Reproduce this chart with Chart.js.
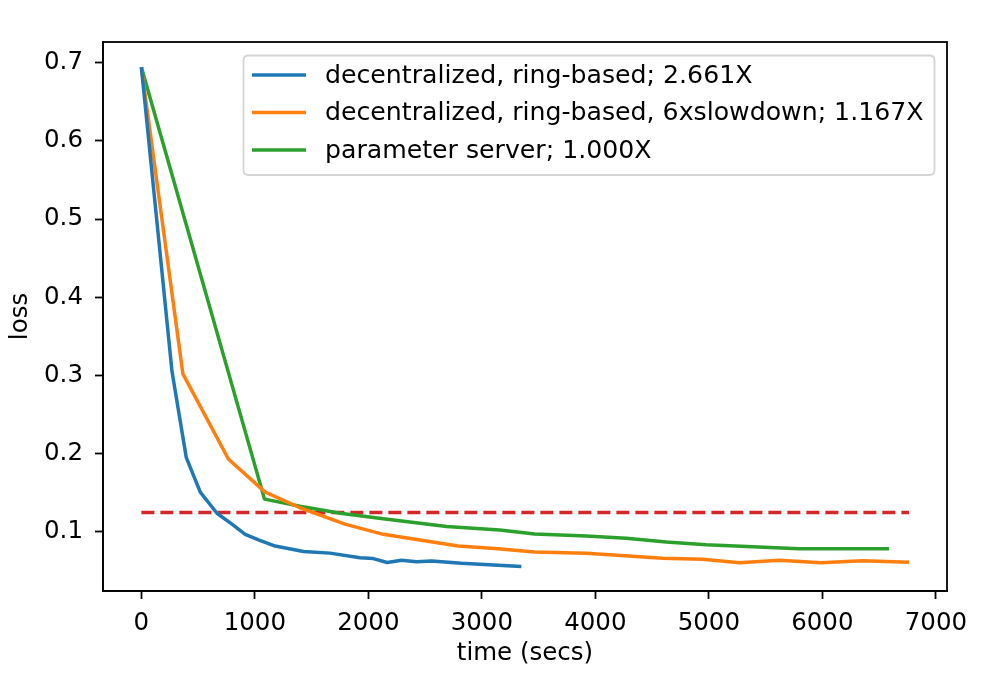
<!DOCTYPE html>
<html>
<head>
<meta charset="utf-8">
<script src="https://cdn.jsdelivr.net/npm/chart.js@4/dist/chart.umd.min.js"></script>
<style>
html,body{margin:0;padding:0;background:#fff;}
#wrap{width:1001px;height:675px;}
</style>
</head>
<body>
<div id="wrap"><canvas id="c" width="1001" height="675"></canvas></div>
<script>
// ---- data ----
const seriesLabels = [
  "decentralized, ring-based; 2.661X",
  "decentralized, ring-based, 6xslowdown; 1.167X",
  "parameter server; 1.000X"
];
const ringTime = [0, 270, 396, 519, 666, 798, 915, 1032, 1179, 1428, 1662, 1926, 2043, 2166, 2293, 2425, 2557, 2820, 3348];
const ringLoss = [0.694, 0.305, 0.195, 0.151, 0.124, 0.110, 0.097, 0.090, 0.082, 0.075, 0.073, 0.067, 0.066, 0.061, 0.064, 0.062, 0.063, 0.060, 0.056];

const slowTime = [0, 366, 768, 1091, 1398, 1794, 2131, 2791, 3113, 3465, 3920, 4594, 4946, 5268, 5620, 5987, 6353, 6763];
const slowLoss = [0.694, 0.302, 0.193, 0.151, 0.131, 0.110, 0.097, 0.082, 0.079, 0.0744, 0.0727, 0.0663, 0.0651, 0.0608, 0.0638, 0.0608, 0.0633, 0.0612];

const psTime = [0, 1085, 1398, 1752, 2131, 2689, 3157, 3465, 3920, 4272, 4624, 4976, 5386, 5796, 6588];
const psLoss = [0.694, 0.142, 0.133, 0.124, 0.117, 0.107, 0.1025, 0.0974, 0.0949, 0.092, 0.0872, 0.0838, 0.0812, 0.0787, 0.0787];

const thresholdTime = [0, 6763];
const thresholdLoss = [0.125, 0.125];

const xTicks = [0, 1000, 2000, 3000, 4000, 5000, 6000, 7000];
const yTicks = [0.1, 0.2, 0.3, 0.4, 0.5, 0.6, 0.7];

const colors = ["#1f77b4", "#ff7f0e", "#2ca02c", "#d62728"];
const FONT = "'DejaVu Sans', sans-serif";

function pts(xs, ys){ return xs.map((x,i)=>({x:x, y:ys[i]})); }

const framePlugin = {
  id: 'frame',
  afterDatasetsDraw(chart){
    const {ctx, chartArea:a} = chart;
    ctx.save();
    ctx.strokeStyle = '#000';
    ctx.lineWidth = 1.8;
    ctx.strokeRect(a.left, a.top, a.right - a.left, a.bottom - a.top);
    ctx.restore();
  }
};

const legendPlugin = {
  id: 'boxLegend',
  afterDatasetsDraw(chart){
    const ctx = chart.ctx;
    const x0 = 243.5, y0 = 55.5, w = 691, h = 119.5, r = 5;
    ctx.save();
    ctx.beginPath();
    ctx.moveTo(x0 + r, y0);
    ctx.lineTo(x0 + w - r, y0);
    ctx.quadraticCurveTo(x0 + w, y0, x0 + w, y0 + r);
    ctx.lineTo(x0 + w, y0 + h - r);
    ctx.quadraticCurveTo(x0 + w, y0 + h, x0 + w - r, y0 + h);
    ctx.lineTo(x0 + r, y0 + h);
    ctx.quadraticCurveTo(x0, y0 + h, x0, y0 + h - r);
    ctx.lineTo(x0, y0 + r);
    ctx.quadraticCurveTo(x0, y0, x0 + r, y0);
    ctx.closePath();
    ctx.fillStyle = 'rgba(255,255,255,0.8)';
    ctx.fill();
    ctx.strokeStyle = '#d5d5d5';
    ctx.lineWidth = 1.8;
    ctx.stroke();
    const rowsY = [75, 112.5, 150];
    ctx.font = "25.2px " + FONT;
    ctx.textBaseline = 'middle';
    ctx.textAlign = 'left';
    for (let i = 0; i < 3; i++) {
      const ds = chart.data.datasets[i];
      ctx.strokeStyle = ds.borderColor;
      ctx.lineWidth = 3.5;
      ctx.beginPath();
      ctx.moveTo(252, rowsY[i]);
      ctx.lineTo(306, rowsY[i]);
      ctx.stroke();
      ctx.fillStyle = '#000';
      ctx.fillText(ds.label, 325, rowsY[i] + 1);
    }
    ctx.restore();
  }
};

new Chart(document.getElementById('c'), {
  type: 'line',
  data: {
    datasets: [
      {label: seriesLabels[0], data: pts(ringTime, ringLoss), borderColor: colors[0]},
      {label: seriesLabels[1], data: pts(slowTime, slowLoss), borderColor: colors[1]},
      {label: seriesLabels[2], data: pts(psTime, psLoss), borderColor: colors[2]},
      {label: 'threshold', data: pts(thresholdTime, thresholdLoss), borderColor: colors[3], borderDash: [13, 6]}
    ]
  },
  options: {
    responsive: false,
    animation: false,
    events: [],
    layout: {padding: {top: 42, right: 54, left: 0, bottom: 0}},
    elements: {
      point: {radius: 0},
      line: {borderWidth: 3.5, tension: 0, fill: false, borderCapStyle: 'butt', borderJoinStyle: 'round'}
    },
    plugins: {legend: {display: false}, tooltip: {enabled: false}},
    scales: {
      x: {
        type: 'linear',
        min: -338, max: 7098,
        afterBuildTicks(scale){ scale.ticks = xTicks.map(v => ({value: v})); },
        afterFit(scale){ scale.height = 84; },
        ticks: {color: '#000', font: {family: FONT, size: 24.5}, padding: 10, maxRotation: 0, autoSkip: false,
                callback: v => String(v)},
        grid: {drawOnChartArea: false, drawTicks: true, tickLength: 8, tickWidth: 1.8, color: '#000'},
        border: {display: true, color: '#000', width: 1.8},
        title: {display: true, text: 'time (secs)', color: '#000', font: {family: FONT, size: 24.5}, padding: {top: 0, bottom: 7}}
      },
      y: {
        type: 'linear',
        min: 0.0246, max: 0.7262,
        afterBuildTicks(scale){ scale.ticks = yTicks.map(v => ({value: v})); },
        afterFit(scale){ scale.width = 103; },
        ticks: {color: '#000', font: {family: FONT, size: 24.5}, padding: 12, autoSkip: false,
                callback: v => v.toFixed(1)},
        grid: {drawOnChartArea: false, drawTicks: true, tickLength: 8, tickWidth: 1.8, color: '#000'},
        border: {display: true, color: '#000', width: 1.8},
        title: {display: true, text: 'loss', color: '#000', font: {family: FONT, size: 24.5}, padding: {top: 6, bottom: 0}}
      }
    }
  },
  plugins: [framePlugin, legendPlugin]
});
</script>
</body>
</html>
